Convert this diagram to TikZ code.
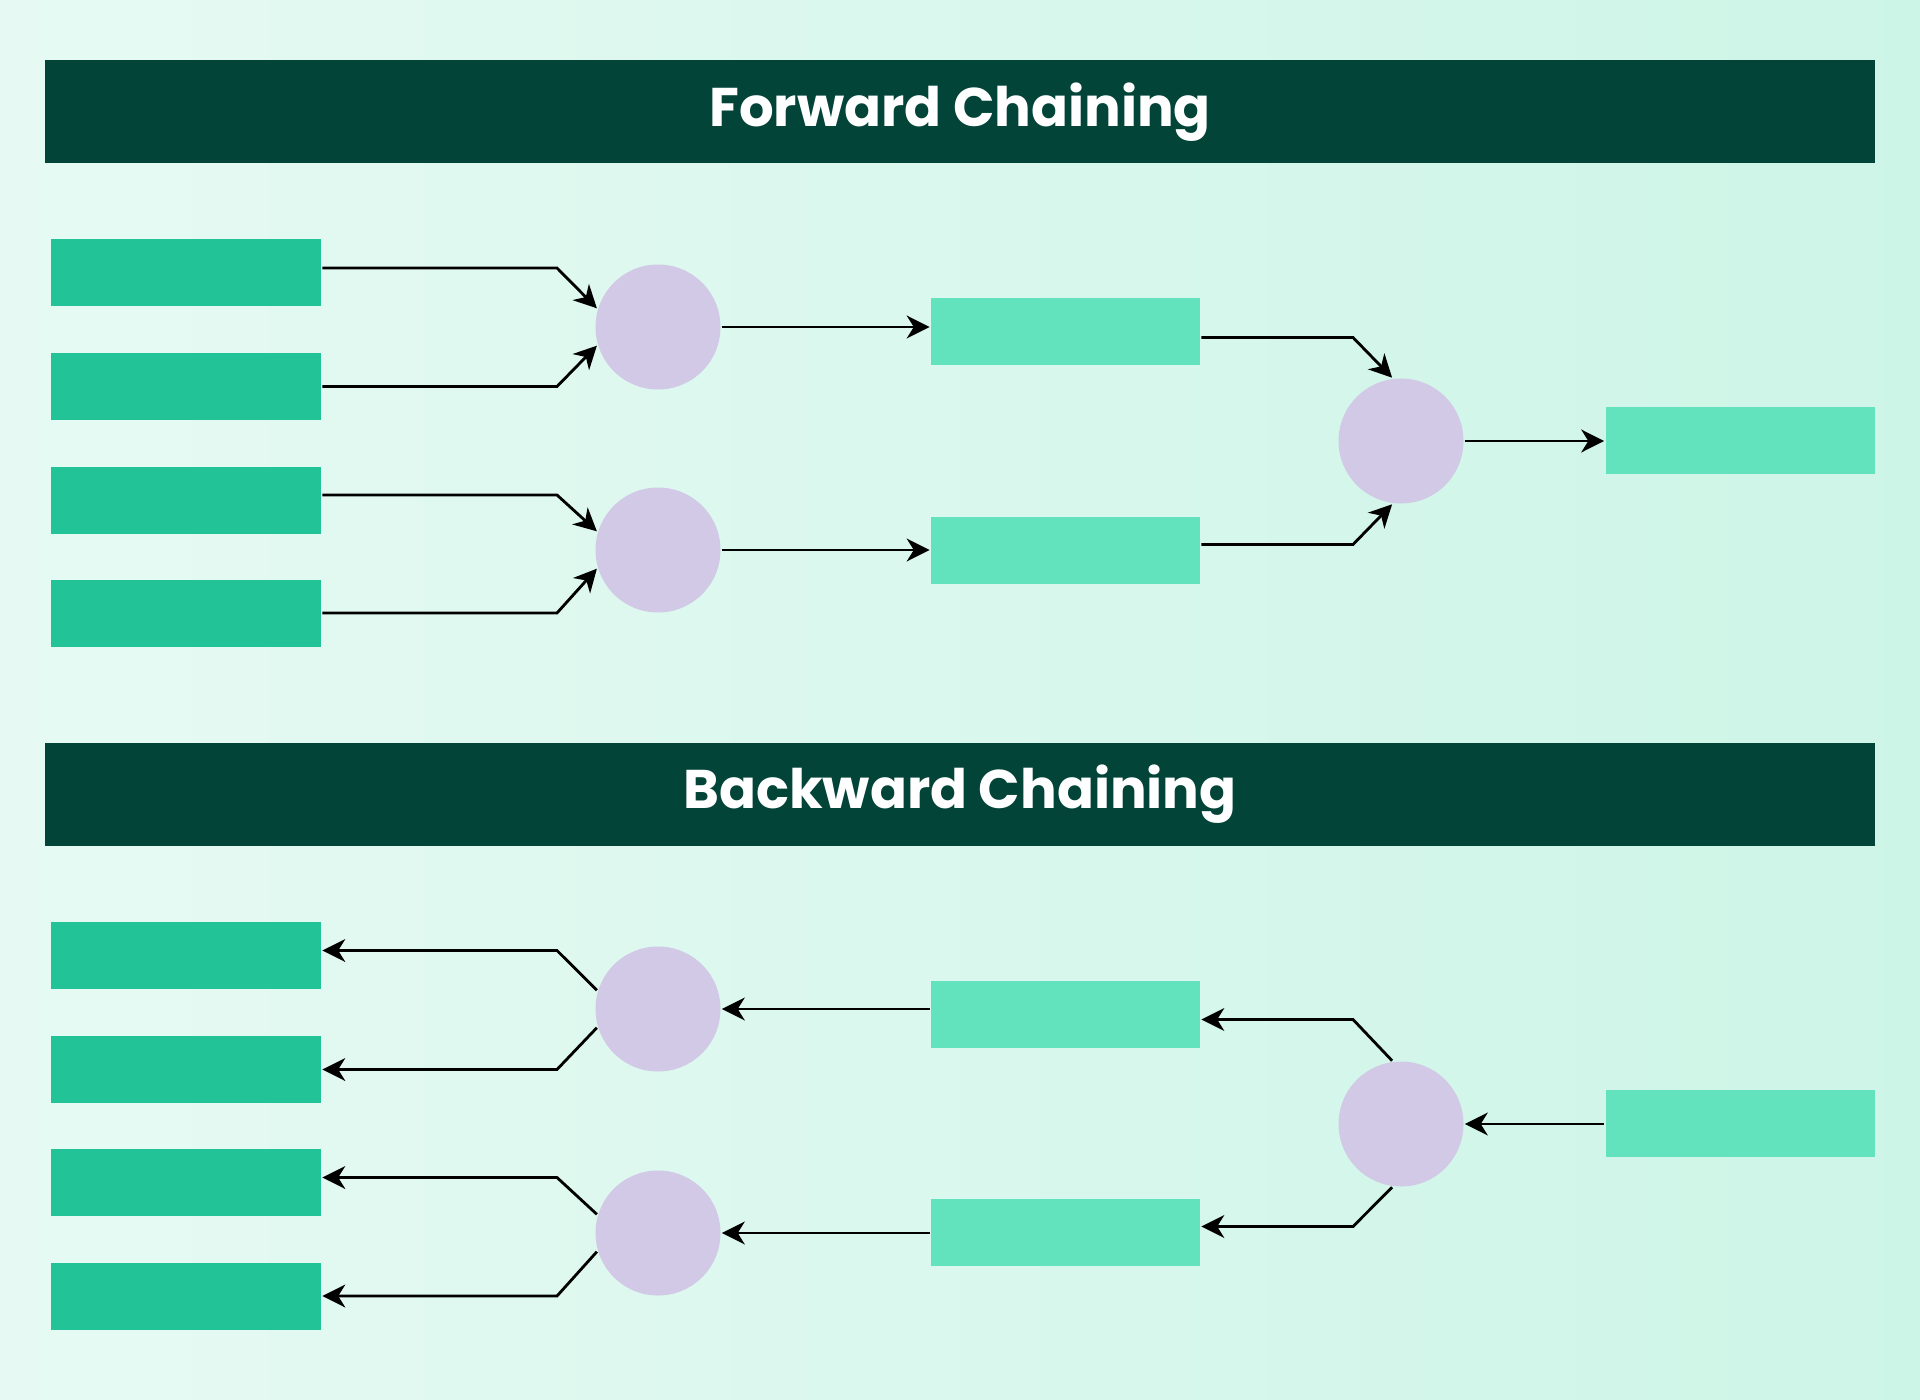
\documentclass[tikz,border=0pt]{standalone}
\usepackage{fontspec}
\setmainfont{Poppins}
\usetikzlibrary{arrows.meta,positioning,calc}

\definecolor{bgleft}{HTML}{E6FAF3}
\definecolor{bgright}{HTML}{CDF5E7}
\definecolor{headgreen}{HTML}{024437}
\definecolor{factgreen}{HTML}{22C397}
\definecolor{midgreen}{HTML}{62E3BE}
\definecolor{rulelilac}{HTML}{D1C9E5}

\begin{document}
\begin{tikzpicture}
  [
  line width=0.8pt, >={Stealth[length=6.5pt,width=6.5pt,inset=2pt]},
  header/.style={rectangle, fill=headgreen, minimum width=18.3cm, minimum height=1.03cm,
    inner sep=0pt, text=white, font=\fontsize{15.5}{19}\selectfont\bfseries},
  fact/.style={rectangle, fill=factgreen, minimum width=2.7cm, minimum height=0.67cm, inner sep=0pt},
  inter/.style={rectangle, fill=midgreen, minimum width=2.69cm, minimum height=0.67cm, inner sep=0pt},
  rulenode/.style={circle, fill=rulelilac, minimum size=1.25cm, inner sep=0pt},
  ]

  % background
  \shade[left color=bgleft, right color=bgright] (0,0) rectangle (19.2,13.99);
  \useasboundingbox (0,0) rectangle (19.2,13.99);

  % forward chaining
  \node[header] (fhead) at (9.6,12.87) {Forward Chaining};

  \node[fact] (fa1) at (1.86,11.26) {};
  \node[fact] (fa2) at (1.86,10.125) {};
  \node[fact] (fa3) at (1.86,8.99) {};
  \node[fact] (fa4) at (1.86,7.86) {};

  \node[rulenode] (fc1) at (6.58,10.72) {};
  \node[rulenode] (fc2) at (6.58,8.49) {};

  \node[inter] (fm1) at (10.655,10.675) {};
  \node[inter] (fm2) at (10.655,8.485) {};

  \node[rulenode] (fc3) at (14.01,9.58) {};
  \node[inter] (fgoal) at (17.4,9.585) {};

  \coordinate (brkL) at (5.57,0);
  \coordinate (brkR) at (13.53,0);

  \draw[->] ([yshift=0.5mm]fa1.east) -- ([yshift=0.5mm]fa1.east -| brkL) -- (fc1.163);
  \draw[->] (fa2.east) -- (fa2.east -| brkL) -- (fc1.197);
  \draw[->] ([yshift=0.5mm]fa3.east) -- ([yshift=0.5mm]fa3.east -| brkL) -- (fc2.163);
  \draw[->] (fa4.east) -- (fa4.east -| brkL) -- (fc2.197);
  \draw[->] (fc1.east) -- (fc1.east -| fm1.west);
  \draw[->] (fc2.east) -- (fc2.east -| fm2.west);
  \draw[->] ([yshift=-0.6mm]fm1.east) -- ([yshift=-0.6mm]fm1.east -| brkR) -- (fc3.98);
  \draw[->] ([yshift=0.6mm]fm2.east) -- ([yshift=0.6mm]fm2.east -| brkR) -- (fc3.262);
  \draw[->] (fc3.east) -- (fc3.east -| fgoal.west);

  % backward chaining
  \node[header] (bhead) at (9.6,6.045) {Backward Chaining};

  \node[fact] (ba1) at (1.86,4.435) {};
  \node[fact] (ba2) at (1.86,3.295) {};
  \node[fact] (ba3) at (1.86,2.165) {};
  \node[fact] (ba4) at (1.86,1.03) {};

  \node[rulenode] (bc1) at (6.58,3.9) {};
  \node[rulenode] (bc2) at (6.58,1.66) {};

  \node[inter] (bm1) at (10.655,3.845) {};
  \node[inter] (bm2) at (10.655,1.665) {};

  \node[rulenode] (bc3) at (14.01,2.75) {};
  \node[inter] (bgoal) at (17.4,2.755) {};

  \draw[->] (bc1.163) -- ([yshift=0.5mm]ba1.east -| brkL) -- ([yshift=0.5mm]ba1.east);
  \draw[->] (bc1.197) -- (ba2.east -| brkL) -- (ba2.east);
  \draw[->] (bc2.163) -- ([yshift=0.5mm]ba3.east -| brkL) -- ([yshift=0.5mm]ba3.east);
  \draw[->] (bc2.197) -- (ba4.east -| brkL) -- (ba4.east);
  \draw[->] (bc1.east -| bm1.west) -- (bc1.east);
  \draw[->] (bc2.east -| bm2.west) -- (bc2.east);
  \draw[->] (bc3.98) -- ([yshift=-0.5mm]bm1.east -| brkR) -- ([yshift=-0.5mm]bm1.east);
  \draw[->] (bc3.262) -- ([yshift=0.6mm]bm2.east -| brkR) -- ([yshift=0.6mm]bm2.east);
  \draw[->] (bc3.east -| bgoal.west) -- (bc3.east);

\end{tikzpicture}
\end{document}
